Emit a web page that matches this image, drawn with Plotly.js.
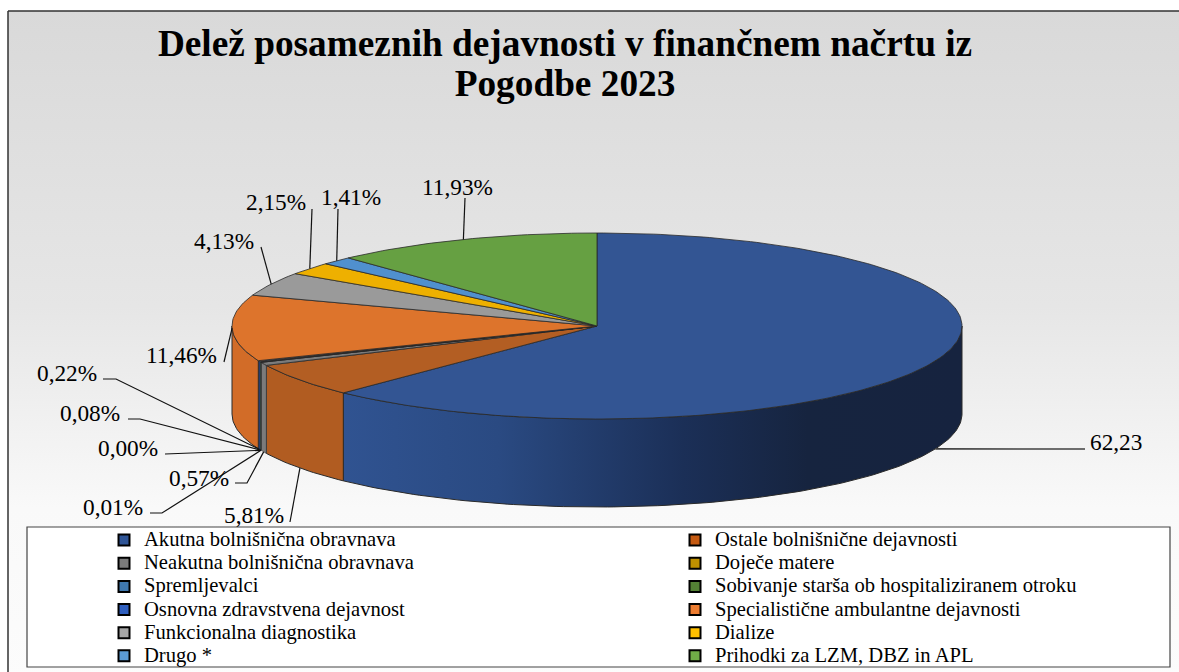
<!DOCTYPE html>
<html><head><meta charset="utf-8">
<script src="https://cdn.plot.ly/plotly-3.0.1.min.js"></script>
<style>html,body{margin:0;padding:0;background:#fff}</style></head>
<body><div id="chart" style="width:1179px;height:672px"></div>
<script>
// ---- data ----
const categories = ["Akutna bolnišnična obravnava","Ostale bolnišnične dejavnosti","Neakutna bolnišnična obravnava","Doječe matere","Spremljevalci","Sobivanje starša ob hospitaliziranem otroku","Osnovna zdravstvena dejavnost","Specialistične ambulantne dejavnosti","Funkcionalna diagnostika","Dialize","Drugo *","Prihodki za LZM, DBZ in APL"];
const values = [62.23,5.81,0.57,0.01,0.00,0.08,0.22,11.46,4.13,2.15,1.41,11.93];
const valueLabels = ["62,23","5,81%","0,57%","0,01%","0,00%","0,08%","0,22%","11,46%","4,13%","2,15%","1,41%","11,93%"];
const legendColors = ["#2F5597","#C55A11","#7B7B7B","#BF9000","#3F78AE","#548235","#2F5FBF","#ED7D31","#A5A5A5","#FFC000","#5B9BD5","#70AD47"];
const topColors = ["#335593","#B35E23","#7B7B7B","#BF9000","#3F78AE","#548235","#24407A","#DD742C","#9A9A9A","#EEB000","#5090CE","#66A042"];
const sideColors = ["#26406F","#B15C21","#7B7B7B","#BF9000","#3F78AE","#548235","#24407A","#D26C28","#9A9A9A","#EEB000","#5090CE","#66A042"];
// ---- layout constants ----
const CX=597, CY=326, RX=365, RY=93, DEPTH=88;
// label text anchors (right edge, centre y) and leader elbow
const labelPos = [[1142,442],[284,515],[229,478],[143,507],[158,448],[120,413],[97,373],[217,355],[254,241],[306,202],[381,197],[493,187]];
const leaderStart = [[1085,449],[290,522],[235,483],[150,513],[165,454],[128,419],[103,379],[224,362],[261,247],[312,209],[338,209],[465,198]];
const leaderElbow = [null,null,[247,483],[162,513],null,[140,419],[116,379],null,null,null,null,null];

const total = values.reduce((a,b)=>a+b,0);
const pt = (deg,dz=0)=>{const r=deg*Math.PI/180;return [CX+RX*Math.sin(r),CY-RY*Math.cos(r)+dz];};
function arc(a0,a1,dz){const n=Math.max(2,Math.ceil(Math.abs(a1-a0)));const o=[];for(let i=0;i<=n;i++)o.push(pt(a0+(a1-a0)*i/n,dz));return o;}
const poly=(pts,props)=>Object.assign({type:'scatter',mode:'lines',x:pts.map(p=>p[0]),y:pts.map(p=>p[1]),fill:'toself',hoverinfo:'skip',showlegend:false},props);

const traces=[];
// background panel
traces.push(poly([[8,11],[1190,11],[1190,683],[8,683],[8,11]],{line:{color:'#333',width:1.5},fillgradient:{type:'vertical',colorscale:[[0,'#FCFCFC'],[0.26,'#F9F9F9'],[0.56,'#E6E6E6'],[1,'#D9D9D9']]}}));

let acc=0; const spans=values.map(v=>{const s=[acc/total*360,(acc+v)/total*360];acc+=v;return s;});
// side walls (front half only)
spans.forEach((s,i)=>{
  const a0=Math.max(s[0],90),a1=Math.min(s[1],270);
  if(a1<=a0) return;
  const pts=arc(a0,a1,0).concat(arc(a1,a0,DEPTH)); pts.push(pts[0]);
  const props={name:categories[i],line:{color:'#2a2a2a',width:i<2||i==7?1:0.5}};
  if(i===0) props.fillgradient={type:'horizontal',colorscale:[[0,'#305391'],[0.25,'#2A4A82'],[0.55,'#1B2F57'],[0.75,'#16243F'],[1,'#16233F']]};
  else props.fillcolor=sideColors[i];
  traces.push(poly(pts,props));
});
// top slices
spans.forEach((s,i)=>{
  if(s[1]<=s[0]) return;
  const pts=[[CX,CY]].concat(arc(s[0],s[1],0)); pts.push([CX,CY]);
  traces.push(poly(pts,{name:categories[i],fillcolor:topColors[i],line:{color:'#2a2a2a',width:0.8}}));
});
// leader lines
const annotations=[];
spans.forEach((s,i)=>{
  const mid=(s[0]+s[1])/2;
  const front=mid>90&&mid<262;
  const end=pt(mid,front?DEPTH:0);
  const pts=[leaderStart[i]]; if(leaderElbow[i]) pts.push(leaderElbow[i]); pts.push(end);
  traces.push({type:'scatter',mode:'lines',x:pts.map(p=>p[0]),y:pts.map(p=>p[1]),line:{color:i==0?'#404040':'#111',width:i==0?1.6:1.2},hoverinfo:'skip',showlegend:false});
  annotations.push({xref:'x',yref:'y',x:labelPos[i][0],y:labelPos[i][1],xanchor:'right',yanchor:'middle',xshift:2,showarrow:false,text:valueLabels[i],font:{family:'Liberation Serif',size:23.3,color:'#000'}});
});
// legend entries
categories.forEach((c,i)=>{
  traces.push({type:'scatter',mode:'markers',x:[null],y:[null],name:'<span style="font-size:20.6px">'+c+'</span>',legend:i%2?'legend2':'legend',
    marker:{symbol:'square',size:11,color:legendColors[i],line:{color:'#000',width:2}},hoverinfo:'skip'});
});
const legendBase={orientation:'v',xanchor:'left',yanchor:'top',bgcolor:'rgba(0,0,0,0)',borderwidth:0,itemwidth:30,
  font:{family:'Liberation Serif',size:15.5,color:'#000'},traceorder:'normal',itemclick:false,itemdoubleclick:false};
const layout={
  width:1179,height:672,margin:{l:0,r:0,t:0,b:0,autoexpand:false},paper_bgcolor:'#fff',plot_bgcolor:'#fff',
  xaxis:{range:[0,1179],visible:false,fixedrange:true},
  yaxis:{range:[672,0],visible:false,fixedrange:true},
  title:{text:'<b><span style="font-size:37.3px">Delež posameznih dejavnosti v finančnem načrtu iz<br>Pogodbe 2023</span></b>',x:565/1179,xanchor:'center',y:1-55.5/672,yanchor:'top',font:{family:'Liberation Serif',size:31,color:'#000'}},
  showlegend:true,
  legend:Object.assign({},legendBase,{x:104/1179,y:1-523.5/672}),
  legend2:Object.assign({},legendBase,{x:675/1179,y:1-523.5/672}),
  shapes:[{type:'rect',xref:'x',yref:'y',x0:27,x1:1170,y0:527,y1:667,fillcolor:'#fff',line:{color:'#444',width:1.2},layer:'above'}],
  annotations
};
Plotly.newPlot('chart',traces,layout,{displayModeBar:false,staticPlot:true});
</script></body></html>
